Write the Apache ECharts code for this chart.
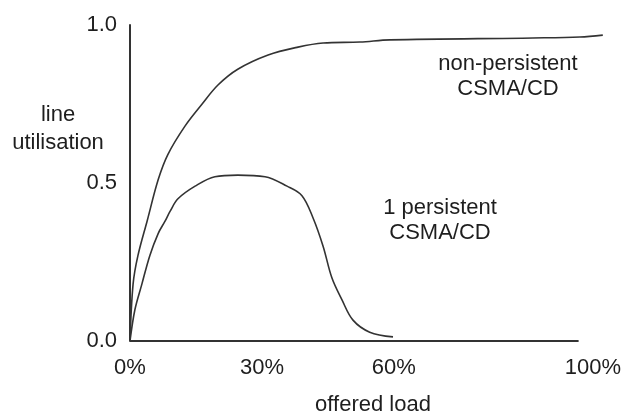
<!DOCTYPE html>
<html>
<head>
<meta charset="utf-8">
<script src="https://cdn.jsdelivr.net/npm/echarts@6/dist/echarts.min.js"></script>
<style>html,body{margin:0;padding:0;background:#fff}#c{width:624px;height:417px}</style>
</head>
<body>
<div id="c"></div>
<script>
// offered load (%) and line utilisation
const nonPersistentX = [0, 0.7, 1.8, 3.9, 6.4, 8.6, 12.5, 16.4, 20, 24.5, 31.4, 38.2, 43.9, 52.3, 59.1, 91.6, 102.3, 107.5];
const nonPersistentY = [0, 0.18, 0.27, 0.38, 0.51, 0.59, 0.68, 0.75, 0.81, 0.86, 0.905, 0.93, 0.943, 0.946, 0.953, 0.959, 0.962, 0.968];
const onePersistentX = [0, 1.1, 2.7, 4.5, 6.4, 8, 9.1, 10.9, 14.8, 19.3, 24.5, 30.7, 35.7, 39.1, 41.6, 43.9, 45.9, 48.2, 50.7, 54.5, 59.8];
const onePersistentY = [0, 0.098, 0.18, 0.27, 0.34, 0.38, 0.41, 0.45, 0.49, 0.52, 0.525, 0.52, 0.49, 0.46, 0.39, 0.30, 0.20, 0.13, 0.066, 0.028, 0.013];
const xTicks = [0, 30, 60, 100];
const xTickLabels = ['0%', '30%', '60%', '100%'];
const xAxisEnd = 102;   // drawn x-axis line ends here
const xViewMax = 108;   // curve runs a little past the axis end
const yTicks = [0, 0.5, 1.0];
const yTickLabels = ['0.0', '0.5', '1.0'];
const yAxisTitle = ['line', 'utilisation'];
const xAxisTitle = 'offered load';
const seriesLabels = [['non-persistent', 'CSMA/CD'], ['1 persistent', 'CSMA/CD']];

const FONT = 'Liberation Sans';
const TXT = '#1e1e1e';
const FS = 22;
const zip = (xs, ys) => xs.map((x, i) => [x, ys[i]]);

const chart = echarts.init(document.getElementById('c'), null, {renderer: 'canvas'});
chart.setOption({
  animation: false,
  backgroundColor: '#fff',
  grid: {left: 130, top: 25, right: 19, bottom: 76},
  xAxis: {
    type: 'value', min: 0, max: xViewMax,
    axisLine: {show: false},
    axisTick: {show: false},
    splitLine: {show: false},
    axisLabel: {
      customValues: xTicks,
      margin: 16,
      color: TXT, fontFamily: FONT, fontSize: FS,
      formatter: v => {
        const i = xTicks.indexOf(v);
        const t = i >= 0 ? xTickLabels[i] : '';
        return v === 100 ? '{r|' + t + '}' : t;
      },
      rich: {r: {padding: [0, 0, 0, 46], color: TXT, fontFamily: FONT, fontSize: FS}}
    }
  },
  yAxis: {
    type: 'value', min: 0, max: 1,
    axisLine: {show: true, lineStyle: {color: '#333', width: 2}},
    axisTick: {show: false},
    splitLine: {show: false},
    axisLabel: {
      customValues: yTicks,
      margin: 13,
      color: TXT, fontFamily: FONT, fontSize: FS,
      formatter: v => { const i = yTicks.indexOf(v); return i >= 0 ? yTickLabels[i] : ''; }
    }
  },
  graphic: [
    {type: 'text', x: 58, y: 129, style: {text: yAxisTitle.join('\n'), align: 'center', verticalAlign: 'middle', lineHeight: 28, fill: TXT, font: FS + 'px "' + FONT + '"'}},
    {type: 'text', x: 373, y: 405, style: {text: xAxisTitle, align: 'center', verticalAlign: 'middle', fill: TXT, font: FS + 'px "' + FONT + '"'}},
    {type: 'text', x: 508, y: 76, style: {text: seriesLabels[0].join('\n'), align: 'center', verticalAlign: 'middle', lineHeight: 25, fill: TXT, font: FS + 'px "' + FONT + '"'}},
    {type: 'text', x: 440, y: 220, style: {text: seriesLabels[1].join('\n'), align: 'center', verticalAlign: 'middle', lineHeight: 25, fill: TXT, font: FS + 'px "' + FONT + '"'}}
  ],
  series: [
    {type: 'line', data: zip(nonPersistentX, nonPersistentY), smooth: 0.35, showSymbol: false, clip: false,
     lineStyle: {color: '#333', width: 1.6},
     markLine: {silent: true, symbol: 'none', label: {show: false},
       lineStyle: {color: '#333', width: 2, type: 'solid'},
       data: [[{coord: [0, 0]}, {coord: [xAxisEnd, 0]}]]}},
    {type: 'line', data: zip(onePersistentX, onePersistentY), smooth: 0.35, showSymbol: false, clip: false,
     lineStyle: {color: '#333', width: 1.6}}
  ]
});
</script>
</body>
</html>
